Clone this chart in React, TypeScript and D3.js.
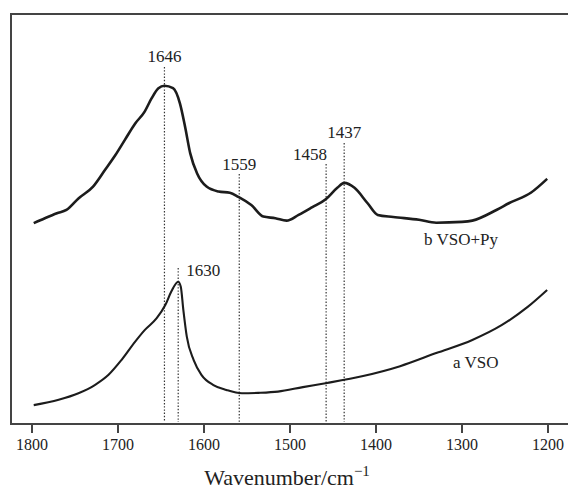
import React from "react";
import * as d3 from "d3";

// FTIR spectra (arbitrary absorbance units) over 1800–1200 cm⁻¹
const wavenumbersB = [1798, 1785, 1771, 1760, 1746, 1729, 1715, 1703, 1692, 1680, 1669, 1661, 1653, 1646, 1636, 1628, 1622, 1616, 1608, 1597, 1583, 1570, 1560, 1545, 1531, 1517, 1504, 1490, 1474, 1458, 1445, 1437, 1425, 1410, 1398, 1380, 1350, 1330, 1300, 1288, 1260, 1245, 1220, 1201];
const absorbanceB = [0.490, 0.502, 0.514, 0.522, 0.550, 0.579, 0.620, 0.656, 0.693, 0.733, 0.762, 0.794, 0.819, 0.825, 0.819, 0.782, 0.725, 0.660, 0.611, 0.579, 0.567, 0.564, 0.554, 0.534, 0.506, 0.502, 0.496, 0.510, 0.529, 0.549, 0.576, 0.588, 0.576, 0.539, 0.510, 0.505, 0.498, 0.491, 0.493, 0.496, 0.522, 0.539, 0.564, 0.598];

const wavenumbersA = [1798, 1769, 1746, 1727, 1711, 1696, 1680, 1669, 1655, 1645, 1638, 1630, 1627, 1624, 1620, 1612, 1603, 1589, 1574, 1556, 1537, 1514, 1485, 1457, 1415, 1372, 1330, 1288, 1254, 1224, 1201];
const absorbanceA = [0.046, 0.059, 0.075, 0.095, 0.120, 0.156, 0.201, 0.229, 0.258, 0.290, 0.323, 0.347, 0.335, 0.278, 0.213, 0.156, 0.120, 0.095, 0.083, 0.075, 0.076, 0.079, 0.090, 0.100, 0.117, 0.141, 0.173, 0.205, 0.241, 0.285, 0.327];

const xTicks = [1800, 1700, 1600, 1500, 1400, 1300, 1200];
const peakMarks = [1646, 1630, 1559, 1458, 1437];
const seriesNames = ["b VSO+Py", "a VSO"];

const W = 568;
const H = 491;
const left = 11;
const top = 14;
const bottom = 424;

export default function App() {
  const x = d3.scaleLinear().domain([1800, 1200]).range([32, 548]);
  const y = d3.scaleLinear().domain([0, 1]).range([bottom, top]);

  const line = d3
    .line<[number, number]>()
    .x((d) => x(d[0]))
    .y((d) => y(d[1]))
    .curve(d3.curveMonotoneX);

  const pathB = line(wavenumbersB.map((w, i) => [w, absorbanceB[i]]) as [number, number][]) || "";
  const pathA = line(wavenumbersA.map((w, i) => [w, absorbanceA[i]]) as [number, number][]) || "";

  // label placement for each marked band: text baseline, anchor, offset, where the guide starts
  const markLayout: Record<number, { ty: number; anchor: string; dx: number; y0: number }> = {
    1646: { ty: 62, anchor: "middle", dx: 0, y0: 67 },
    1630: { ty: 276, anchor: "start", dx: 8, y0: 268 },
    1559: { ty: 170, anchor: "middle", dx: 0, y0: 174 },
    1458: { ty: 160, anchor: "end", dx: 1, y0: 164 },
    1437: { ty: 138, anchor: "middle", dx: 0, y0: 143 },
  };

  const font = "'Liberation Serif', 'Times New Roman', serif";
  const ink = "#444";

  return (
    <svg
      width={W}
      height={H}
      viewBox={`0 0 ${W} ${H}`}
      style={{ position: "absolute", left: 0, top: 0, background: "#fff" }}
      fontFamily={font}
    >
      <rect x={0} y={0} width={W} height={H} fill="#fff" />

      {/* guide lines for marked bands */}
      {peakMarks.map((p) => {
        const m = markLayout[p];
        return (
          <g key={p}>
            <line
              x1={x(p)}
              x2={x(p)}
              y1={m.y0}
              y2={bottom - 2}
              stroke="#333"
              strokeWidth={1.2}
              strokeDasharray="1.4 1.8"
            />
            <text x={x(p) + m.dx} y={m.ty} textAnchor={m.anchor} fontSize={17} fill="#222">
              {p}
            </text>
          </g>
        );
      })}

      {/* spectra */}
      <path d={pathB} fill="none" stroke="#1c1c1c" strokeWidth={2.6} strokeLinejoin="round" />
      <path d={pathA} fill="none" stroke="#1c1c1c" strokeWidth={2.1} strokeLinejoin="round" />

      <text x={424} y={245} fontSize={17} fill="#222">{seriesNames[0]}</text>
      <text x={453} y={368} fontSize={17} fill="#222">{seriesNames[1]}</text>

      {/* frame */}
      <line x1={left} x2={left} y1={top - 1} y2={bottom + 1} stroke={ink} strokeWidth={2} />
      <line x1={left - 1} x2={W} y1={top} y2={top} stroke={ink} strokeWidth={2} />
      <line x1={left - 1} x2={W} y1={bottom} y2={bottom} stroke={ink} strokeWidth={2} />

      {/* x axis ticks */}
      {xTicks.map((t) => (
        <g key={t}>
          <line x1={x(t)} x2={x(t)} y1={bottom} y2={bottom + 9} stroke={ink} strokeWidth={2} />
          <text x={x(t)} y={450} textAnchor="middle" fontSize={16} fill="#222">
            {t}
          </text>
        </g>
      ))}

      <text x={287} y={485} textAnchor="middle" fontSize={22} fill="#222">
        Wavenumber/cm
        <tspan dy={-9} fontSize={15}>−1</tspan>
      </text>
    </svg>
  );
}
